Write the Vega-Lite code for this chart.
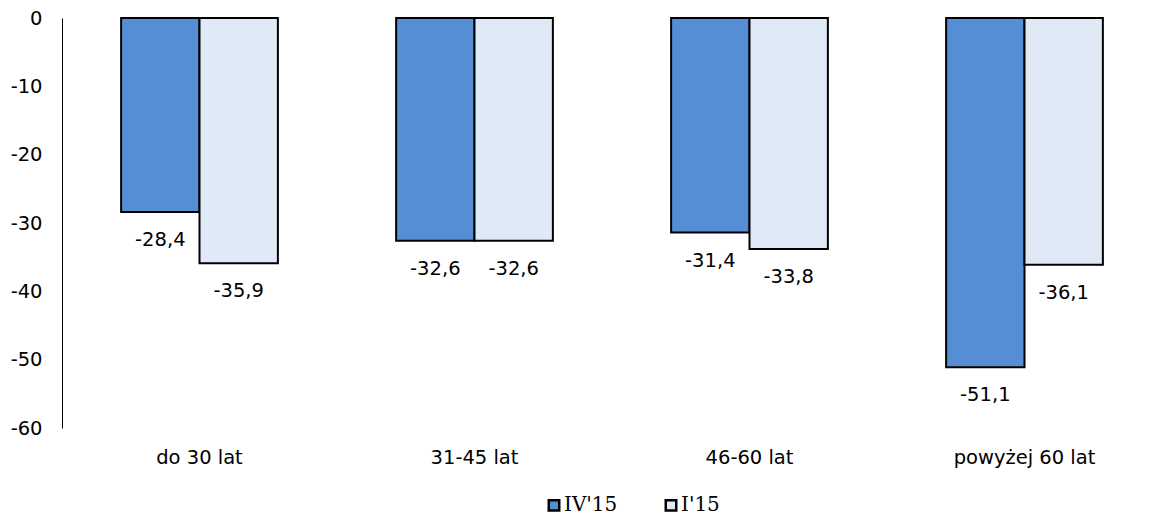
{
  "$schema": "https://vega.github.io/schema/vega-lite/v6.json",
  "width": 1100,
  "height": 410,
  "autosize": {"type": "none"},
  "padding": {"left": 62, "top": 18, "right": 2, "bottom": 89},
  "background": "white",
  "config": {
    "view": {"stroke": null},
    "font": "DejaVu Sans",
    "axis": {"labelFont": "DejaVu Sans", "labelFontSize": 19.5, "labelColor": "black", "grid": false, "ticks": false, "title": null}
  },
  "data": {
    "values": [
      {"grupa": "do 30 lat", "okres": "IV'15", "wartosc": -28.4, "etykieta": "-28,4"},
      {"grupa": "do 30 lat", "okres": "I'15", "wartosc": -35.9, "etykieta": "-35,9"},
      {"grupa": "31-45 lat", "okres": "IV'15", "wartosc": -32.6, "etykieta": "-32,6"},
      {"grupa": "31-45 lat", "okres": "I'15", "wartosc": -32.6, "etykieta": "-32,6"},
      {"grupa": "46-60 lat", "okres": "IV'15", "wartosc": -31.4, "etykieta": "-31,4"},
      {"grupa": "46-60 lat", "okres": "I'15", "wartosc": -33.8, "etykieta": "-33,8"},
      {"grupa": "powyżej 60 lat", "okres": "IV'15", "wartosc": -51.1, "etykieta": "-51,1"},
      {"grupa": "powyżej 60 lat", "okres": "I'15", "wartosc": -36.1, "etykieta": "-36,1"}
    ]
  },
  "encoding": {
    "x": {
      "field": "grupa", "type": "nominal",
      "sort": ["do 30 lat", "31-45 lat", "46-60 lat", "powyżej 60 lat"],
      "scale": {"paddingInner": 0.43, "paddingOuter": 0.215},
      "axis": {"orient": "bottom", "domain": false, "labelAngle": 0, "labelPadding": 20}
    },
    "xOffset": {"field": "okres", "type": "nominal", "sort": ["IV'15", "I'15"]}
  },
  "layer": [
    {
      "mark": {"type": "bar", "stroke": "black", "strokeWidth": 2},
      "encoding": {
        "y": {
          "field": "wartosc", "type": "quantitative",
          "scale": {"domain": [-60, 0], "nice": false},
          "axis": {"values": [-60, -50, -40, -30, -20, -10, 0], "domain": true, "domainColor": "black", "domainWidth": 1, "labelPadding": 20, "labelExpr": "datum.value + ''"}
        },
        "color": {
          "field": "okres", "type": "nominal", "sort": ["IV'15", "I'15"],
          "scale": {"domain": ["IV'15", "I'15"], "range": ["#558ED5", "#E0EAF7"]},
          "legend": {
            "orient": "none", "legendX": 482, "legendY": 477, "direction": "horizontal", "title": null, "padding": 0,
            "symbolType": "square", "symbolSize": 110, "symbolStrokeColor": "black", "symbolStrokeWidth": 2.5,
            "labelFont": "DejaVu Serif", "labelFontSize": 20, "labelColor": "black",
            "columnPadding": 42, "labelOffset": 0
          }
        }
      }
    },
    {
      "mark": {"type": "text", "baseline": "middle", "align": "center", "dy": 28, "fontSize": 19.5, "color": "black"},
      "encoding": {
        "y": {"field": "wartosc", "type": "quantitative"},
        "text": {"field": "etykieta"}
      }
    },
    {
      "mark": {"type": "rule", "color": "black", "strokeWidth": 1},
      "encoding": {"y": {"datum": 0}}
    }
  ]
}
